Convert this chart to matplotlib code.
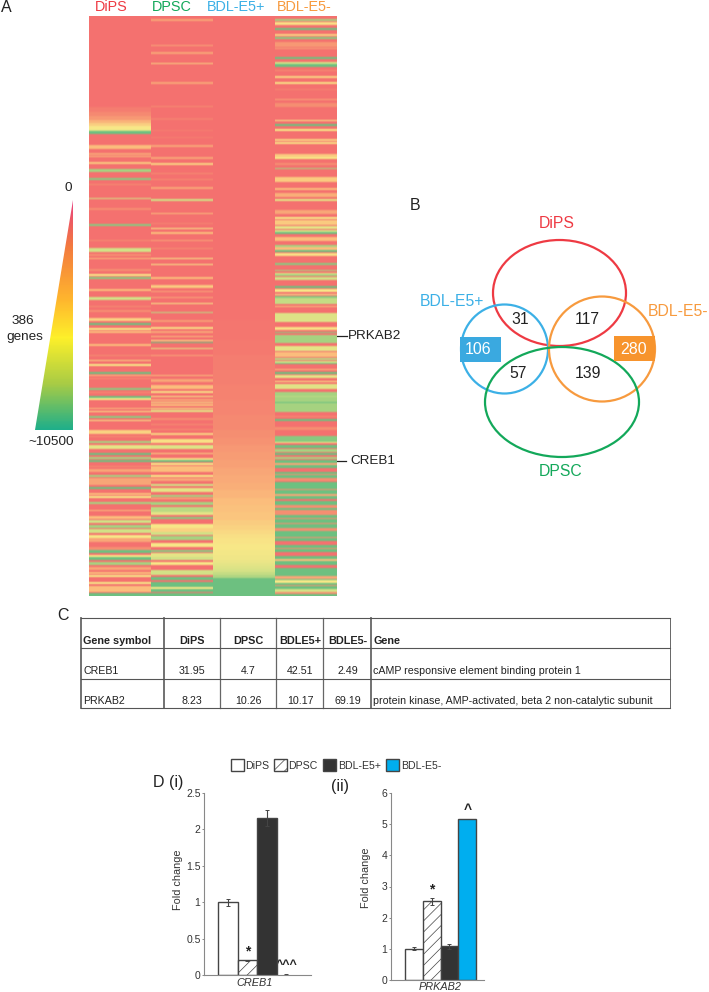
import numpy as np
import matplotlib
matplotlib.use("Agg")
import matplotlib.pyplot as plt
from matplotlib.colors import LinearSegmentedColormap
from matplotlib.patches import Ellipse, Polygon, Rectangle

plt.rcParams['font.family'] = ['Liberation Sans', 'DejaVu Sans']
plt.rcParams['hatch.linewidth'] = 0.5

W, H = 709, 992

# --- heatmap: (first row, last row, level) painted in order on a red background
# level 0 = red ... 3 = yellow ... 6 = green
heat_samples = ['DiPS', 'DPSC', 'BDL-E5+', 'BDL-E5-']
heat_colors = ['#ee3a43', '#13a85a', '#3cb0e6', '#f79a3e']
first_row, last_row = 16, 596

dips_stripes = [
    (107, 112, .4), (112, 116, .8), (116, 120, 1.2), (120, 123, 1.8), (123, 126, 2.4), (126, 130, 3),
    (130, 131, 4), (131, 134, 6), (145, 149, 2), (153, 155, 1.5), (156, 157, 2), (162, 164, 2.3),
    (169, 172, 5), (178, 180, 5.5), (184, 185, 1), (198, 199, 4), (208, 210, 1), (224, 226, 5.5),
    (240, 241, 1), (248, 252, 4), (254, 256, 1), (258, 259, 2), (269, 271, 1), (274, 276, 3),
    (277, 279, 5.5), (289, 291, 2), (297, 300, 4), (306, 307, 1), (310, 312, 1), (318, 321, 2.5),
    (323, 325, 6), (328, 330, 3), (331, 333, 2), (344, 346, 2), (355, 356, 1), (360, 361, 2.5),
    (364, 366, 3), (372, 374, 6), (375, 376, 2), (378, 379, 1), (388, 390, 5.5), (392, 393, 1),
    (396, 398, 6), (398, 400, 3), (408, 409, 2), (411, 412, 3), (416, 418, 5.5), (420, 421, 3),
    (430, 434, 2.5), (436, 437, 1), (441, 443, 5), (445, 449, 3.5), (453, 455, 6), (457, 459, 5),
    (460, 462, 6), (466, 467, 1), (469, 472, 1.5), (475, 477, 5), (478, 485, 1.5), (487, 489, 6),
    (493, 495, 2), (496, 498, 3), (502, 504, 5), (510, 511, 2), (516, 519, 2), (520, 523, 4),
    (525, 528, 5), (529, 533, 4), (535, 538, 3), (538, 542, 1.5), (547, 550, 1), (550, 553, 6),
    (555, 557, 3), (557, 560, 6), (562, 565, 5), (567, 570, 1.5), (572, 574, 2), (575, 577, 3),
    (582, 584, 3), (586, 592, 2), (593, 596, 6),
]
dpsc_stripes = [
    (19, 21, 1.5), (45, 46, 1.5), (52, 54, 1.5), (63, 64, 2.5), (82, 84, 1.5), (106, 107, 1),
    (118, 120, .5), (130, 131, .5), (137, 138, .5), (145, 147, 1.5), (157, 159, 1.5), (163, 165, 2.5),
    (173, 174, 1), (179, 180, 1), (187, 189, 1.5), (199, 201, 4), (213, 214, 2), (223, 224, .7),
    (228, 229, 3), (232, 234, 2), (240, 241, 1.5), (248, 249, 1), (258, 259, 3), (264, 265, 3),
    (277, 279, 2), (285, 288, 2.3), (291, 292, 1.5), (297, 298, 1.5), (303, 304, 3), (312, 313, 4.5),
    (320, 322, 1.3), (327, 329, 2.7), (331, 333, 1.5), (336, 337, 2), (340, 341, 3), (342, 343, 6),
    (348, 349, 3.5), (355, 356, 1.5), (375, 376, 2), (379, 382, 1.5), (385, 389, 2), (391, 393, 2.7),
    (396, 397, 3), (399, 401, 1.5), (402, 403, 3), (404, 406, 2), (408, 409, 3), (410, 412, 3.5),
    (418, 420, 1), (424, 425, 1), (429, 430, 1), (433, 435, 2.5), (439, 443, 2.8), (445, 449, 3.7),
    (453, 454, 2.5), (458, 460, 2.7), (460, 462, 6), (463, 465, 3), (466, 472, 2), (475, 477, 3),
    (478, 481, 1.5), (484, 486, 4), (488, 492, 3.5), (495, 497, 5), (498, 499, 2), (502, 505, 5),
    (507, 512, 4.5), (512, 515, 3.5), (517, 519, 5.5), (524, 528, 3), (528, 532, 2.5), (532, 535, 4),
    (536, 540, 5), (543, 547, 3), (550, 552, 5.5), (553, 557, 3.5), (557, 560, 4), (562, 565, 3),
    (570, 575, 4), (577, 580, 6), (582, 587, 6), (587, 589, 3), (589, 592, 6), (593, 596, 6),
]
bdl_pos_stripes = [
    (300, 320, .1), (320, 340, .2), (340, 355, .3), (355, 370, .4), (370, 385, .5), (385, 400, .6),
    (400, 415, .7), (415, 430, .8), (430, 438, 1), (438, 445, 1.1), (445, 452, 1.2), (452, 460, 1.3),
    (460, 468, 1.4), (468, 475, 1.5), (475, 483, 1.6), (483, 490, 1.7), (490, 498, 1.85), (498, 505, 2),
    (505, 512, 2.1), (512, 520, 2.2), (520, 525, 2.35), (525, 530, 2.5), (530, 534, 2.65), (534, 538, 2.8),
    (538, 544, 2.9), (544, 550, 3), (550, 555, 3.1), (555, 560, 3.2), (560, 563, 3.35), (563, 566, 3.5),
    (566, 569, 3.7), (569, 572, 3.9), (572, 575, 4.3), (575, 578, 4.8), (578, 596, 6),
]
bdl_neg_stripes = [
    (19, 21, 5), (22, 25, 2.8), (28, 30, 6), (34, 36, 2.5), (37, 39, 5.5), (42, 47, 1.2), (48, 49, 1.5),
    (57, 59, 6), (62, 64, 4), (64, 67, 6), (70, 71, 1), (76, 78, 2.5), (82, 84, 2.8), (89, 90, .7),
    (99, 100, 1.5), (103, 107, 1), (120, 121, 3), (124, 126, 6), (129, 131, 3), (139, 141, 2.5),
    (142, 144, 2.8), (154, 157, 2.3), (157, 159, 3), (163, 165, 1), (168, 169, 5), (177, 182, 2.3),
    (188, 190, 2), (193, 197, 1.7), (199, 201, 3.5), (210, 214, 1.5), (217, 219, 3), (220, 225, 2.3),
    (226, 229, 3.5), (230, 232, 4), (232, 234, 6), (237, 241, 2), (245, 247, 5), (247, 250, 2),
    (250, 252, 6), (253, 256, 2.8), (263, 265, 5.5), (270, 271, 5), (273, 274, 3.5), (274, 276, 5),
    (277, 280, 4), (286, 288, 6), (289, 292, 3), (294, 295, 3), (296, 298, 5.5), (298, 304, 4.3),
    (306, 307, 2), (313, 322, 3.7), (327, 330, 2.8), (332, 333, 5.5), (335, 343, 5), (346, 351, 3.5),
    (352, 357, 2), (358, 360, 4.5), (361, 363, 4), (363, 364, 6), (369, 370, 2), (372, 374, 6),
    (375, 378, 3.5), (381, 382, 3), (384, 389, 3.6), (392, 412, 5), (396, 397, 4.5), (402, 403, 6),
    (416, 417, 1), (419, 421, 6), (427, 430, 1), (436, 443, 5.5), (442, 443, 3), (445, 448, 6),
    (449, 452, 5), (453, 455, 6), (457, 459, 5), (460, 596, 6), (463, 465, 1.5), (468, 472, 0),
    (474, 475, 1), (478, 481, 1), (481, 482, 0), (489, 490, 1), (494, 496, 1.5), (499, 501, 0),
    (505, 508, 1), (510, 515, 1), (518, 519, 1), (523, 524, 1), (528, 531, 1), (537, 538, 1),
    (541, 545, 0), (548, 549, 1), (552, 556, 0), (559, 561, 2), (565, 568, 0), (576, 579, 1.5),
    (580, 583, 3), (585, 586, 1), (589, 592, 4), (592, 594, 1),
]
heat_columns = [dips_stripes, dpsc_stripes, bdl_pos_stripes, bdl_neg_stripes]
heat_cmap_colors = ['#f4716f', '#f68f72', '#fbbd7c', '#f8e888', '#d2e186', '#a7d381', '#6dc080']

triangle_colors = ['#e9417f', '#f37a3f', '#ffb52e', '#fdf02a', '#a9cc45', '#1faf8a']

# --- venn
venn_sets = ['DiPS', 'BDL-E5+', 'BDL-E5-', 'DPSC']
venn_counts = ['31', '117', '57', '139']
exclusive_counts = ['106', '280']

# --- table
table_header = ['Gene symbol', 'DiPS', 'DPSC', 'BDLE5+', 'BDLE5-', 'Gene']
table_rows = [
    ['CREB1', '31.95', '4.7', '42.51', '2.49', 'cAMP responsive element binding protein 1'],
    ['PRKAB2', '8.23', '10.26', '10.17', '69.19', 'protein kinase, AMP-activated, beta 2 non-catalytic subunit'],
]

# --- bars
bar_labels = ['DiPS', 'DPSC', 'BDL-E5+', 'BDL-E5-']
creb1_values = [1.0, 0.2, 2.16, 0.01]
creb1_errors = [0.05, 0.01, 0.11, 0.005]
prkab2_values = [1.0, 2.52, 1.08, 5.18]
prkab2_errors = [0.05, 0.12, 0.07, 0.0]


def px_axes(fig, left, top, right, bottom, **kw):
    # axes from a box given in image pixels
    return fig.add_axes([left / W, 1 - bottom / H, (right - left) / W, (bottom - top) / H], **kw)


fig = plt.figure(figsize=(W / 100, H / 100), dpi=100)
page = px_axes(fig, 0, 0, W, H)
page.set_xlim(0, W)
page.set_ylim(H, 0)
page.axis('off')

# panel A heatmap
heat = np.zeros((last_row - first_row, 4))
for col, stripes in enumerate(heat_columns):
    for start, end, level in stripes:
        heat[start - first_row:end - first_row, col] = level
heat_cmap = LinearSegmentedColormap.from_list('heat', heat_cmap_colors)
# the picture is a soft scan, so blur the colours a little along the rows
heat_rgb = heat_cmap(heat / 6)[:, :, :3]
for col in range(4):
    for ch in range(3):
        padded = np.pad(heat_rgb[:, col, ch], 1, mode='edge')
        heat_rgb[:, col, ch] = np.convolve(padded, [.25, .5, .25], mode='valid')
ax_heat = px_axes(fig, 89, first_row, 336, last_row)
ax_heat.imshow(heat_rgb, aspect='auto', interpolation='nearest', extent=(0, 4, last_row, first_row))
ax_heat.axis('off')

for name, color, x in zip(heat_samples, heat_colors, [111, 172, 236, 304]):
    page.text(x, 7, name, color=color, fontsize=10.4, ha='center', va='center')
page.text(1, 8, 'A', fontsize=11.5, color='#222222', ha='left', va='center')

# gradient triangle
ax_tri = px_axes(fig, 35, 200, 73, 430)
ramp = np.linspace(0, 1, 230).reshape(-1, 1)
tri_cmap = LinearSegmentedColormap.from_list('tri', list(zip([0, .2, .43, .6, .8, 1], triangle_colors)))
img = ax_tri.imshow(ramp, cmap=tri_cmap, aspect='auto', extent=(0, 1, 1, 0))
img.set_clip_path(Polygon([(1, 0), (1, 1), (0, 1)], transform=ax_tri.transData))
ax_tri.axis('off')
page.text(68, 188, '0', fontsize=9.7, color='#222222', ha='center', va='center')
page.text(23, 321, '386', fontsize=9.7, color='#222222', ha='center', va='center')
page.text(25, 337, 'genes', fontsize=9.7, color='#222222', ha='center', va='center')
page.text(51, 442, '~10500', fontsize=9.7, color='#222222', ha='center', va='center')

# gene callouts
page.plot([336, 347], [336, 336], color='#222222', lw=0.9)
page.text(348, 336, 'PRKAB2', fontsize=9.7, color='#222222', va='center')
page.plot([336, 346], [461, 461], color='#222222', lw=0.9)
page.text(350, 461, 'CREB1', fontsize=9.7, color='#222222', va='center')

# panel B venn
page.text(410, 205, 'B', fontsize=11.5, color='#222222', va='center')
venn_shapes = [((559.5, 293), 133, 106, '#ee3a43'), ((504.5, 349), 87, 89, '#3cb0e6'),
               ((602, 349), 106, 105, '#f79a3e'), ((562, 402), 154, 110, '#13a85a')]
for (center, w, h, color) in venn_shapes:
    page.add_patch(Ellipse(center, w, h, fill=False, edgecolor=color, lw=1.6))
venn_label_pos = [(557, 223, 'center'), (452, 302, 'center'), (648, 312, 'left'), (561, 472, 'center')]
for name, (x, y, ha), color in zip(venn_sets, venn_label_pos, ['#ee3a43', '#3cb0e6', '#f79a3e', '#13a85a']):
    page.text(x, y, name, color=color, fontsize=11.3, ha=ha, va='center')
for count, (x, y) in zip(venn_counts, [(520, 320), (587, 320), (518, 373), (588, 373)]):
    page.text(x, y, count, fontsize=11.3, color='#222222', ha='center', va='center')
page.add_patch(Rectangle((460, 337), 41, 25, color='#3aa9e0', lw=0))
page.add_patch(Rectangle((614, 336), 41, 25, color='#f7942d', lw=0))
page.text(478, 350, exclusive_counts[0], fontsize=11.5, color='white', ha='center', va='center')
page.text(634, 350, exclusive_counts[1], fontsize=11.5, color='white', ha='center', va='center')

# panel C table
page.text(63, 615, 'C', fontsize=11.5, color='#222222', ha='center', va='center')
col_edges = [81, 164, 220, 276, 323, 371, 670]
row_edges = [618, 648, 679, 708]
for x in col_edges:
    thick = 1.3 if x in col_edges[:2] or x == col_edges[5] else 0.9
    page.plot([x, x], [row_edges[0], row_edges[-1]], color='#666666', lw=thick if x != 670 else 0.7)
for y in row_edges:
    page.plot([col_edges[0], col_edges[-1]], [y, y], color='#555555', lw=0.8)
col_centers = [None, 192, 248, 300, 348, None]
for i, label in enumerate(table_header):
    x = col_centers[i] or (83 if i == 0 else 373)
    page.text(x, 641, label, fontsize=7.8, fontweight='bold', color='#222222',
              ha='center' if col_centers[i] else 'left', va='center')
for row, y in zip(table_rows, [671, 701]):
    for i, label in enumerate(row):
        x = col_centers[i] or (83 if i == 0 else 373)
        page.text(x, y, label, fontsize=7.65, color='#222222',
                  ha='center' if col_centers[i] else 'left', va='center')


# panel D bars
def draw_bars(ax, values, errors, ticks, tick_labels, ymax):
    styles = [dict(color='white'), dict(color='white', hatch='///'),
              dict(color='#333333'), dict(color='#00aeef')]
    for i, (v, e, st) in enumerate(zip(values, errors, styles)):
        # a near zero bar shows only its error mark
        if v > 0.05:
            ax.bar(i, v, width=1, edgecolor='#444444', linewidth=1, **st)
        if e > 0:
            ax.errorbar(i, v, yerr=e, color='#444444', lw=0.8, capsize=1.5, capthick=0.7)
    ax.set_ylim(0, ymax)
    ax.set_yticks(ticks)
    ax.set_yticklabels(tick_labels, fontsize=7.5, color='#333333')
    ax.set_xticks([])
    ax.tick_params(axis='y', length=1.5, width=0.6, pad=1, color='#777777')
    ax.spines[['top', 'right']].set_visible(False)
    ax.spines[['left', 'bottom']].set_color('#888888')
    ax.spines[['left', 'bottom']].set_linewidth(0.8)
    ax.patch.set_alpha(0)


ax1 = px_axes(fig, 204, 793, 311, 975)
draw_bars(ax1, creb1_values, creb1_errors, [0, .5, 1, 1.5, 2, 2.5], ['0', '0.5', '1', '1.5', '2', '2.5'], 2.5)
ax1.set_xlim(-1.23, 4.26)
ax2 = px_axes(fig, 391, 793, 484, 980)
draw_bars(ax2, prkab2_values, prkab2_errors, range(7), [str(t) for t in range(7)], 6)
ax2.set_xlim(-1.3, 3.95)

page.text(178, 880, 'Fold change', fontsize=7.8, rotation=90, color='#333333', ha='center', va='center')
page.text(366, 878, 'Fold change', fontsize=7.8, rotation=90, color='#333333', ha='center', va='center')
page.text(255, 983, 'CREB1', fontsize=7.8, style='italic', color='#333333', ha='center', va='center')
page.text(440, 987, 'PRKAB2', fontsize=7.8, style='italic', color='#333333', ha='center', va='center')
page.text(248, 951, '*', fontsize=10, fontweight='bold', color='#222222', ha='center', va='center')
page.text(287, 965, '^^^', fontsize=9, fontweight='bold', color='#222222', ha='center', va='center')
page.text(432, 889, '*', fontsize=10, fontweight='bold', color='#222222', ha='center', va='center')
page.text(468, 810, '^', fontsize=10, fontweight='bold', color='#222222', ha='center', va='center')
page.text(153, 783, 'D (i)', fontsize=11.5, color='#222222', va='center')
page.text(340, 787, '(ii)', fontsize=11.5, color='#222222', ha='center', va='center')

# legend of panel D
swatch_x = [231, 274, 323, 386]
text_x = [245, 288, 338, 401]
swatch_styles = [dict(facecolor='white'), dict(facecolor='white', hatch='///'),
                 dict(facecolor='#333333'), dict(facecolor='#00aeef')]
for label, sx, tx, st in zip(bar_labels, swatch_x, text_x, swatch_styles):
    page.add_patch(Rectangle((sx, 759), 12.5, 12, edgecolor='#444444', lw=1, **st))
    page.text(tx, 766, label, fontsize=7.6, color='#333333', va='center')

fig.savefig('out.png', dpi=100)
